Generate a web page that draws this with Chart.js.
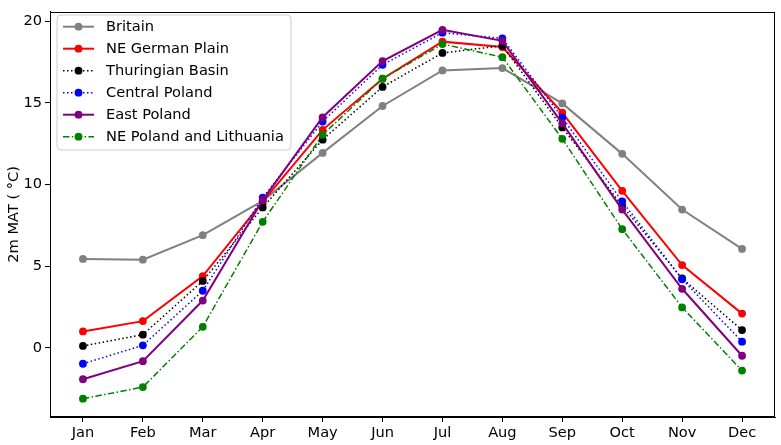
<!DOCTYPE html>
<html>
<head>
<meta charset="utf-8">
<script src="https://cdn.jsdelivr.net/npm/chart.js@4/dist/chart.umd.min.js"></script>
<style>
html,body{margin:0;padding:0;background:#fff;}
canvas{display:block;}
</style>
</head>
<body>
<canvas id="c" width="781" height="445"></canvas>
<script>
const months = ["Jan","Feb","Mar","Apr","May","Jun","Jul","Aug","Sep","Oct","Nov","Dec"];
const yTicks = [0, 5, 10, 15, 20];

const britain      = [5.45, 5.40, 6.90, 9.00, 11.94, 14.81, 16.99, 17.13, 14.97, 11.88, 8.47, 6.06];
const neGerman     = [1.01, 1.64, 4.40, 8.95, 13.35, 16.48, 18.75, 18.42, 14.40, 9.62, 5.07, 2.10];
const thuringian   = [0.12, 0.81, 4.10, 8.60, 12.75, 15.98, 18.06, 18.50, 13.50, 8.70, 4.25, 1.09];
const centralPol   = [-0.97, 0.16, 3.50, 9.20, 13.86, 17.33, 19.30, 18.95, 14.10, 8.97, 4.20, 0.38];
const eastPol      = [-1.92, -0.81, 2.90, 9.05, 14.12, 17.56, 19.47, 18.80, 13.75, 8.47, 3.62, -0.48];
const nePolLith    = [-3.11, -2.40, 1.29, 7.72, 13.05, 16.48, 18.60, 17.80, 12.80, 7.27, 2.48, -1.39];

const seriesNames = ["Britain","NE German Plain","Thuringian Basin","Central Poland","East Poland","NE Poland and Lithuania"];
const seriesValues = [britain, neGerman, thuringian, centralPol, eastPol, nePolLith];
const seriesColors = ["#808080","#ff0000","#000000","#0000ff","#800080","#008000"];
const seriesDash = [[], [], [1.5,2.5], [1.5,2.5], [], [6.4,2.4,1.5,2.4]];
const seriesWidth = [2, 2, 1.5, 1.5, 2, 1.5];

const FONT = "'DejaVu Sans', sans-serif";
const FS = 14.6;
const PR = 3.9;

const datasets = seriesNames.map((name, i) => ({
  label: name,
  data: seriesValues[i].map((v, j) => ({x: j, y: v})),
  borderColor: seriesColors[i],
  backgroundColor: seriesColors[i],
  borderWidth: seriesWidth[i],
  borderDash: seriesDash[i],
  pointRadius: PR,
  pointBorderWidth: 0,
  pointHoverRadius: PR,
  fill: false,
  tension: 0,
  order: 10 - i
}));

const framePlugin = {
  id: 'frame',
  afterDraw(chart) {
    const ctx = chart.ctx, a = chart.chartArea;
    ctx.save();
    ctx.strokeStyle = '#000';
    ctx.lineWidth = 1;
    ctx.strokeRect(Math.round(a.left) + 0.5, Math.round(a.top) + 0.5, Math.round(a.right - a.left) - 1, Math.round(a.bottom - a.top) - 1);
    ctx.restore();
    // legend
    const x0 = 57, y0 = 15, w = 234, h = 135, r = 4;
    ctx.save();
    ctx.beginPath();
    ctx.moveTo(x0 + r, y0);
    ctx.lineTo(x0 + w - r, y0);
    ctx.arcTo(x0 + w, y0, x0 + w, y0 + r, r);
    ctx.lineTo(x0 + w, y0 + h - r);
    ctx.arcTo(x0 + w, y0 + h, x0 + w - r, y0 + h, r);
    ctx.lineTo(x0 + r, y0 + h);
    ctx.arcTo(x0, y0 + h, x0, y0 + h - r, r);
    ctx.lineTo(x0, y0 + r);
    ctx.arcTo(x0, y0, x0 + r, y0, r);
    ctx.closePath();
    ctx.fillStyle = 'rgba(255,255,255,0.8)';
    ctx.fill();
    ctx.strokeStyle = '#cccccc';
    ctx.lineWidth = 1;
    ctx.stroke();
    chart.data.datasets.forEach((ds, i) => {
      const yy = 26.7 + i * 22;
      ctx.beginPath();
      ctx.setLineDash(ds.borderDash || []);
      ctx.strokeStyle = ds.borderColor;
      ctx.lineWidth = ds.borderWidth;
      ctx.moveTo(63, yy);
      ctx.lineTo(94, yy);
      ctx.stroke();
      ctx.setLineDash([]);
      ctx.beginPath();
      ctx.fillStyle = ds.backgroundColor;
      ctx.arc(78.5, yy, PR, 0, Math.PI * 2);
      ctx.fill();
      ctx.fillStyle = '#000';
      ctx.font = FS + 'px ' + FONT;
      ctx.textBaseline = 'middle';
      ctx.textAlign = 'left';
      ctx.fillText(ds.label, 106, yy + 1);
    });
    ctx.restore();
  }
};

new Chart(document.getElementById('c'), {
  type: 'line',
  data: { datasets },
  options: {
    responsive: false,
    devicePixelRatio: 1,
    animation: false,
    layout: { padding: { top: 7, right: 6, left: 0, bottom: 0 } },
    plugins: { legend: { display: false }, tooltip: { enabled: false } },
    scales: {
      x: {
        type: 'linear',
        min: -0.55,
        max: 11.55,
        afterBuildTicks: (s) => { s.ticks = months.map((m, i) => ({ value: i })); },
        afterFit: (s) => { s.height = 28; },
        ticks: {
          callback: (v) => months[v],
          font: { family: FONT, size: FS },
          color: '#000',
          padding: 2,
          maxRotation: 0,
          autoSkip: false
        },
        grid: { drawOnChartArea: false, drawTicks: true, tickLength: 5, tickColor: '#000' },
        border: { display: true, color: '#000', width: 1 }
      },
      y: {
        type: 'linear',
        min: -4.23,
        max: 20.58,
        afterBuildTicks: (s) => { s.ticks = yTicks.map(v => ({ value: v })); },
        afterFit: (s) => { s.width = 50; },
        ticks: {
          font: { family: FONT, size: FS },
          color: '#000',
          padding: 3
        },
        title: {
          display: true,
          text: '2m MAT ( °C)',
          font: { family: FONT, size: FS },
          color: '#000',
          padding: { top: 5, bottom: 0 }
        },
        grid: { drawOnChartArea: false, drawTicks: true, tickLength: 5, tickColor: '#000' },
        border: { display: true, color: '#000', width: 1 }
      }
    }
  },
  plugins: [framePlugin]
});
</script>
</body>
</html>
